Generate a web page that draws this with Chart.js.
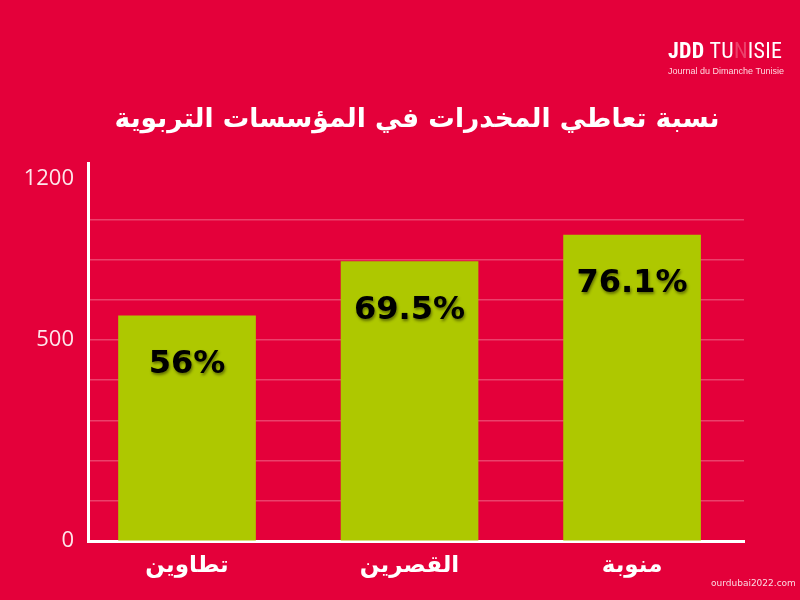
<!DOCTYPE html>
<html>
<head>
<meta charset="utf-8">
<script src="https://cdn.jsdelivr.net/npm/chart.js@4"></script>
<style>
  html,body{margin:0;padding:0;background:#E4003A;}
  #wrap{position:relative;width:800px;height:600px;background:#E4003A;overflow:hidden;}
  #c{position:absolute;left:0;top:0;}
  #title{position:absolute;left:0;width:834px;top:96px;text-align:center;color:#fff;
    font-family:"DejaVu Sans",sans-serif;font-weight:bold;font-size:26.5px;direction:rtl;line-height:44px;}
  #logo{position:absolute;left:668px;top:38px;color:#fff;font-family:"Liberation Sans Narrow","Roboto Condensed","Liberation Sans",sans-serif;}
  #logo .big{font-size:22px;letter-spacing:0.3px;line-height:26px;}
  #logo .big b{font-weight:bold;}
  #logo .big .n{opacity:0.25;}
  #logo .small{font-size:9px;line-height:11px;margin-top:2px;color:#ffd6df;font-family:"Liberation Sans",sans-serif;}
  #wm{position:absolute;left:711px;top:578px;font-size:9px;color:#fff;font-family:"DejaVu Sans",sans-serif;opacity:0.85;}
</style>
</head>
<body>
<div id="wrap">
  <canvas id="c" width="800" height="600"></canvas>
  <div id="title">نسبة تعاطي المخدرات في المؤسسات التربوية</div>
  <div id="logo"><div class="big"><b>JDD</b> TU<span class="n">N</span>ISIE</div><div class="small">Journal du Dimanche Tunisie</div></div>
  <div id="wm">ourdubai2022.com</div>
</div>
<script>
const categories = ["تطاوين", "القصرين", "منوبة"];
const values = [56, 69.5, 76.1];
const percentLabels = ["56%", "69.5%", "76.1%"];
const yTickValues = [0, 50, 90];
const yTickLabels = ["0", "500", "1200"];

const barLabelPlugin = {
  id: 'barLabels',
  afterDatasetsDraw(chart) {
    const ctx = chart.ctx;
    const meta = chart.getDatasetMeta(0);
    ctx.save();
    ctx.font = 'bold 32px "DejaVu Sans", sans-serif';
    ctx.textAlign = 'center';
    ctx.textBaseline = 'middle';
    ctx.fillStyle = '#000';
    ctx.shadowColor = 'rgba(0,0,0,0.45)';
    ctx.shadowBlur = 3;
    ctx.shadowOffsetX = 1;
    ctx.shadowOffsetY = 2;
    meta.data.forEach((el, i) => {
      ctx.fillText(percentLabels[i], el.x, el.y + 49);
    });
    ctx.restore();
  }
};

new Chart(document.getElementById('c'), {
  type: 'bar',
  data: {
    datasets: [{
      data: categories.map((c, i) => ({x: i, y: values[i]})),
      backgroundColor: '#AEC800',
      borderWidth: 0,
      barThickness: 137
    }]
  },
  options: {
    responsive: false,
    animation: false,
    layout: {padding: {left: 0, right: 56, top: 163, bottom: 0}},
    plugins: {legend: {display: false}, tooltip: {enabled: false}},
    scales: {
      x: {
        type: 'linear',
        offset: false,
        min: -0.445,
        max: 2.503,
        afterFit(s) { s.height = 59; },
        grid: {display: false, drawTicks: false, offset: false},
        border: {color: '#ffffff', width: 3},
        ticks: {
          stepSize: 1,
          includeBounds: false,
          padding: 11,
          color: '#ffffff',
          font: {family: '"DejaVu Sans", sans-serif', size: 23, weight: 'bold'},
          callback: v => (Number.isInteger(v) && categories[v] !== undefined) ? categories[v] : ''
        }
      },
      y: {
        min: 0,
        max: 94,
        afterFit(s) { s.width = 88; },
        afterBuildTicks(s) { s.ticks = [0,10,20,30,40,50,60,70,80,90].map(v => ({value: v})); },
        grid: {
          drawTicks: false,
          lineWidth: 1.5,
          color: c => (c.tick && (c.tick.value === 0 || c.tick.value === 90)) ? 'rgba(0,0,0,0)' : 'rgba(255,255,255,0.25)'
        },
        border: {color: '#ffffff', width: 3},
        ticks: {
          padding: 14,
          color: '#fde6eb',
          font: {family: '"Open Sans", sans-serif', size: 22},
          callback: v => { const k = yTickValues.indexOf(v); return k >= 0 ? yTickLabels[k] : ''; }
        }
      }
    }
  },
  plugins: [barLabelPlugin]
});
</script>
</body>
</html>
